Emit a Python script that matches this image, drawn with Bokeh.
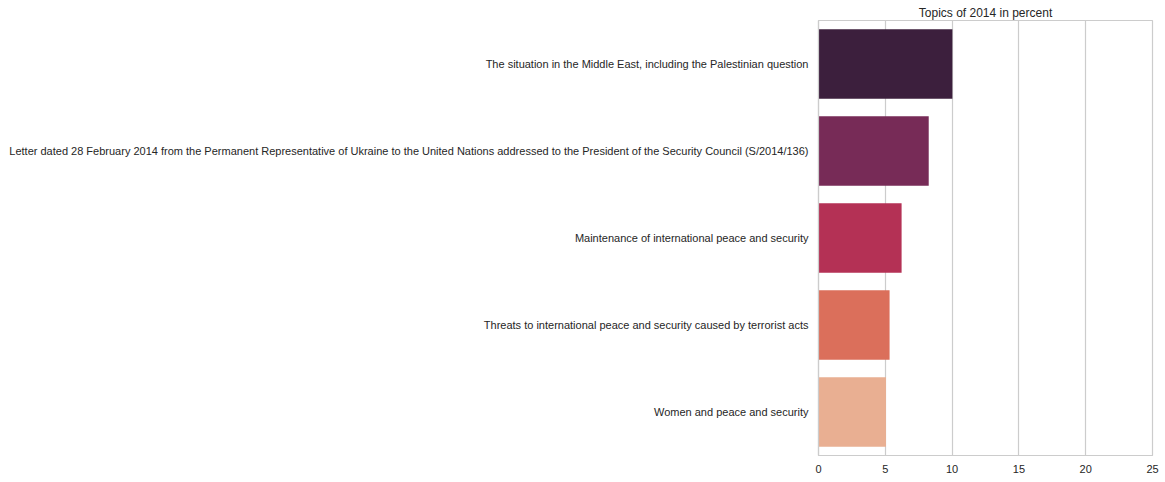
from bokeh.plotting import figure
from bokeh.models import ColumnDataSource, Range1d, FixedTicker
from bokeh.embed import file_html
from bokeh.resources import INLINE

topics = [
    "The situation in the Middle East, including the Palestinian question",
    "Letter dated 28 February 2014 from the Permanent Representative of Ukraine to the United Nations addressed to the President of the Security Council (S/2014/136)",
    "Maintenance of international peace and security",
    "Threats to international peace and security caused by terrorist acts",
    "Women and peace and security",
]
percent = [10.02, 8.25, 6.22, 5.32, 5.05]
colors = ["#3c1f3d", "#772b57", "#b43155", "#db6f5b", "#e9af92"]
x_ticks = [0, 5, 10, 15, 20, 25]

src = ColumnDataSource(dict(topic=topics, pct=percent, color=colors))

p = figure(
    y_range=list(reversed(topics)),
    x_range=Range1d(0, 25),
    width=1165, height=482,
    output_backend="svg", toolbar_location=None,
    min_border_left=818, min_border_right=13,
    min_border_top=20, min_border_bottom=27,
    title="Topics of 2014 in percent",
)
p.hbar(y="topic", right="pct", left=0, height=0.8, color="color", source=src, line_color=None)

p.title.align = "center"
p.title.text_font = "Liberation Sans"
p.title.text_font_size = "12px"
p.title.text_font_style = "normal"
p.title.text_color = "#262626"
p.title.standoff = 2

p.outline_line_color = "#cccccc"
p.outline_line_width = 1.2
p.background_fill_color = "white"
p.border_fill_color = "white"

p.xgrid.ticker = FixedTicker(ticks=x_ticks)
p.xgrid.grid_line_color = "#cccccc"
p.xgrid.grid_line_width = 1.2
p.ygrid.grid_line_color = None

p.xaxis.ticker = FixedTicker(ticks=x_ticks)
for ax in (p.xaxis, p.yaxis):
    ax.axis_line_color = "#cccccc"
    ax.axis_line_width = 1.2
    ax.major_tick_line_color = None
    ax.minor_tick_line_color = None
    ax.major_tick_out = 0
    ax.major_tick_in = 0
    ax.major_label_text_font = "Liberation Sans"
    ax.major_label_text_font_size = "11px"
    ax.major_label_text_color = "#262626"
p.yaxis.major_label_standoff = 10
p.xaxis.major_label_standoff = 9

open("out.html", "w").write(file_html(p, INLINE))
